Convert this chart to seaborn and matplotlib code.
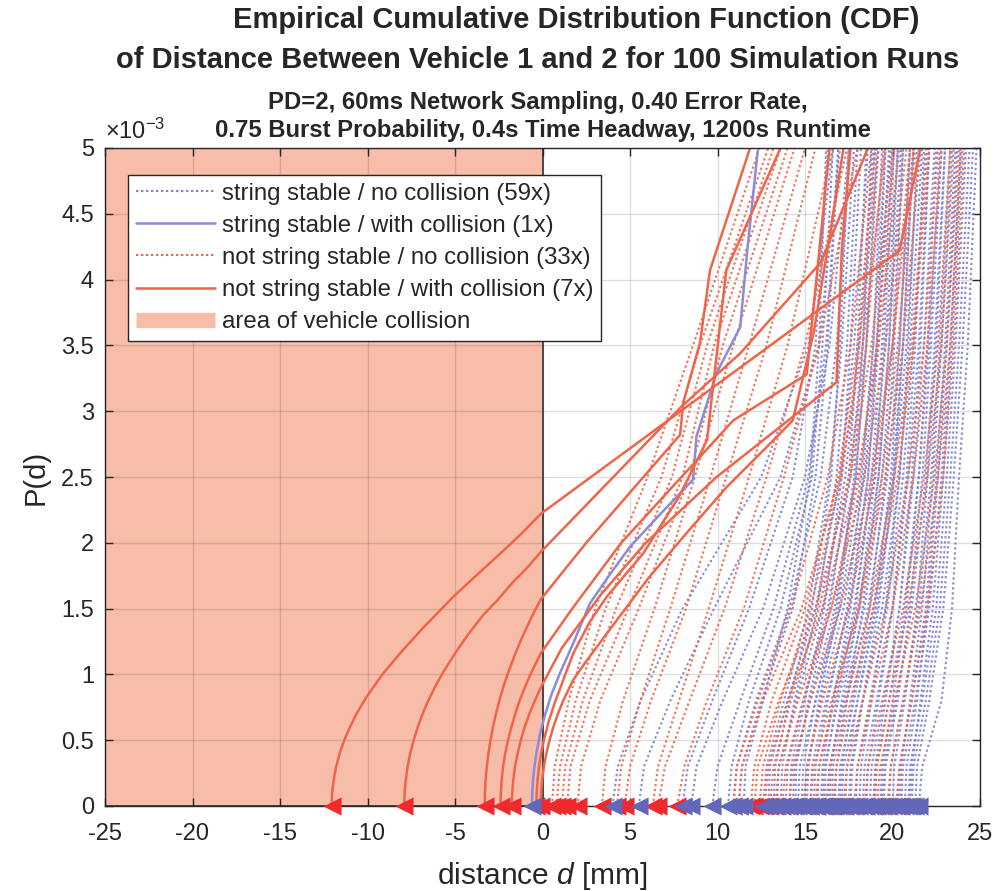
import numpy as np
import pandas as pd
import matplotlib
matplotlib.use("Agg")
import matplotlib.pyplot as plt
from matplotlib.lines import Line2D
import seaborn as sns

sns.set_theme(style="white")
plt.rcParams['font.family'] = ['Liberation Sans', 'DejaVu Sans']
plt.rcParams['mathtext.fontset'] = 'custom'
plt.rcParams['mathtext.rm'] = 'Liberation Sans'
plt.rcParams['mathtext.it'] = 'Liberation Sans:italic'

# ---------------- data (P in units of 1e-3, d in mm) ----------------
P_DOT = [0, 0.3, 0.8, 1.5, 2.5, 3.5, 5.0]

blue_dotted = [
    [4.0, 4.3, 5.6, 8.0, 12.5, 15.2, 16.6],
    [5.5, 5.8, 7.3, 9.8, 13.6, 15.8, 17.0],
    [8.0, 8.3, 9.7, 11.8, 14.3, 15.6, 16.3],
    [8.5, 8.8, 10.3, 12.6, 15.0, 16.4, 17.5],
    [9.7, 10.0, 11.3, 13.2, 15.2, 16.2, 16.9],
    [10.6, 10.8, 11.8, 13.6, 15.4, 16.0, 16.6],
    [10.9, 11.1, 12.2, 14.1, 15.9, 16.8, 17.6],
    [11.2, 11.4, 12.5, 14.3, 15.6, 16.3, 16.9],
    [11.5, 11.6, 12.6, 14.0, 15.3, 15.8, 16.2],
    [12.6, 12.8, 13.8, 15.2, 16.4, 17.1, 17.8],
    [12.9, 13.0, 14.0, 15.6, 17.0, 17.8, 18.6],
    [13.2, 13.3, 14.1, 15.4, 16.5, 17.0, 17.5],
    [13.4, 13.5, 14.5, 16.0, 17.3, 18.1, 18.9],
    [13.6, 13.7, 14.4, 15.7, 16.8, 17.4, 18.0],
    [13.9, 14.0, 14.9, 16.3, 17.6, 18.3, 19.0],
    [14.1, 14.2, 15.0, 16.1, 17.1, 17.6, 18.2],
    [14.3, 14.4, 15.3, 16.7, 17.9, 18.5, 19.2],
    [14.45, 14.5, 15.2, 16.4, 17.5, 18.0, 18.5],
    [14.6, 14.7, 15.6, 17.0, 18.2, 18.9, 19.6],
    [14.8, 14.9, 15.6, 16.8, 17.8, 18.3, 18.8],
    [15.0, 15.1, 15.9, 17.2, 18.4, 19.1, 19.9],
    [15.1, 15.2, 15.8, 16.9, 17.9, 18.5, 19.1],
    [15.3, 15.4, 16.2, 17.5, 18.6, 19.2, 19.8],
    [15.5, 15.6, 16.3, 17.4, 18.3, 18.9, 19.4],
    [15.7, 15.8, 16.6, 17.8, 18.9, 19.6, 20.3],
    [15.9, 16.0, 16.6, 17.6, 18.6, 19.1, 19.6],
    [16.0, 16.1, 16.9, 18.1, 19.2, 19.8, 20.5],
    [16.1, 16.2, 16.8, 17.9, 18.8, 19.4, 20.0],
    [16.3, 16.4, 17.2, 18.4, 19.4, 20.0, 20.6],
    [16.4, 16.5, 17.1, 18.1, 19.0, 19.5, 20.1],
    [16.55, 16.6, 17.4, 18.6, 19.7, 20.4, 21.0],
    [16.7, 16.8, 17.4, 18.3, 19.2, 19.8, 20.3],
    [16.9, 17.0, 17.8, 18.9, 20.0, 20.6, 21.2],
    [17.0, 17.1, 17.7, 18.7, 19.6, 20.1, 20.6],
    [17.1, 17.2, 18.0, 19.1, 20.1, 20.8, 21.5],
    [17.3, 17.4, 18.0, 19.0, 19.9, 20.4, 21.0],
    [17.5, 17.6, 18.3, 19.4, 20.4, 21.0, 21.7],
    [17.6, 17.7, 18.3, 19.2, 20.1, 20.6, 21.2],
    [17.9, 18.0, 18.7, 19.7, 20.6, 21.2, 21.9],
    [18.1, 18.2, 18.8, 19.6, 20.4, 20.9, 21.4],
    [18.3, 18.4, 19.1, 20.0, 20.9, 21.5, 22.1],
    [18.5, 18.6, 19.2, 20.0, 20.8, 21.3, 21.8],
    [18.7, 18.8, 19.5, 20.4, 21.2, 21.8, 22.4],
    [18.9, 19.0, 19.6, 20.4, 21.1, 21.6, 22.1],
    [19.0, 19.1, 19.8, 20.7, 21.5, 22.1, 22.7],
    [19.3, 19.4, 20.0, 20.8, 21.5, 22.0, 22.5],
    [19.4, 19.5, 20.2, 21.1, 21.9, 22.4, 23.0],
    [19.5, 19.6, 20.3, 21.0, 21.7, 22.2, 22.8],
    [19.8, 19.9, 20.6, 21.5, 22.2, 22.7, 23.3],
    [20.0, 20.1, 20.7, 21.4, 22.0, 22.5, 23.0],
    [20.3, 20.4, 21.1, 21.9, 22.5, 23.0, 23.6],
    [20.4, 20.5, 21.0, 21.7, 22.3, 22.8, 23.4],
    [20.5, 20.6, 21.3, 22.1, 22.8, 23.3, 23.9],
    [20.7, 20.8, 21.4, 22.0, 22.6, 23.1, 23.7],
    [20.9, 21.0, 21.7, 22.5, 23.1, 23.6, 24.2],
    [21.0, 21.1, 21.6, 22.3, 22.9, 23.4, 24.0],
    [21.1, 21.2, 21.9, 22.7, 23.3, 23.8, 24.4],
    [21.3, 21.4, 22.1, 22.9, 23.5, 24.0, 24.6],
    [21.5, 21.7, 22.8, 23.4, 23.8, 24.3, 24.8],
]

red_dotted = [
    [0.54, 0.7, 1.5, 3.0, 6.0, 8.6, 12.4],
    [0.8, 1.0, 1.9, 3.6, 6.8, 9.0, 12.9],
    [1.1, 1.3, 2.3, 4.2, 7.4, 9.4, 13.2],
    [1.4, 1.6, 2.7, 4.9, 8.0, 9.8, 13.6],
    [2.0, 2.2, 3.3, 5.5, 8.4, 10.3, 14.0],
    [3.4, 3.6, 4.6, 6.4, 8.7, 10.9, 14.4],
    [4.25, 4.5, 5.6, 7.3, 9.6, 11.8, 15.0],
    [4.7, 5.0, 6.2, 8.2, 10.5, 12.8, 15.6],
    [6.3, 6.6, 7.8, 9.5, 11.8, 14.0, 16.6],
    [6.6, 7.0, 8.4, 10.4, 12.8, 15.0, 17.4],
    [7.7, 8.1, 9.4, 11.5, 13.8, 15.8, 18.0],
    [10.9, 11.1, 12.3, 14.2, 16.3, 17.6, 18.8],
    [11.2, 11.4, 12.6, 14.8, 17.0, 18.3, 19.6],
    [11.9, 12.1, 13.1, 15.0, 16.9, 18.0, 19.0],
    [12.1, 12.3, 13.5, 15.6, 17.6, 18.8, 20.0],
    [12.4, 12.6, 13.6, 15.3, 17.1, 18.1, 19.2],
    [12.7, 12.9, 14.0, 16.0, 18.0, 19.2, 20.4],
    [13.0, 13.2, 14.2, 15.8, 17.5, 18.5, 19.5],
    [13.3, 13.5, 14.6, 16.5, 18.4, 19.6, 20.8],
    [13.7, 13.9, 14.9, 16.5, 18.1, 19.1, 20.1],
    [14.1, 14.3, 15.3, 17.0, 18.8, 20.0, 21.2],
    [14.9, 15.1, 16.0, 17.5, 19.0, 20.0, 21.0],
    [15.3, 15.5, 16.5, 18.1, 19.6, 20.6, 21.6],
    [15.6, 15.8, 16.7, 18.0, 19.4, 20.3, 21.3],
    [16.2, 16.4, 17.3, 18.7, 20.1, 21.1, 22.0],
    [16.6, 16.8, 17.6, 18.9, 20.3, 21.2, 22.1],
    [17.2, 17.4, 18.3, 19.6, 20.9, 21.8, 22.6],
    [17.8, 18.0, 18.8, 20.0, 21.2, 22.0, 22.8],
    [18.4, 18.6, 19.4, 20.6, 21.8, 22.6, 23.3],
    [18.9, 19.1, 19.8, 20.9, 22.0, 22.8, 23.5],
    [19.1, 19.3, 20.1, 21.3, 22.4, 23.1, 23.8],
    [19.7, 19.9, 20.6, 21.6, 22.6, 23.3, 23.9],
    [20.2, 20.4, 21.1, 22.0, 22.9, 23.5, 24.1],
]

blue_solid_P = [0, 0.1, 0.2, 0.3, 0.4, 0.55, 0.7, 0.85, 1.01, 1.25, 1.54, 1.75, 1.97, 2.2, 2.48,
                2.81, 3.29, 3.64, 4.22, 4.98]
blue_solid_d = [-0.6, -0.585, -0.54, -0.46, -0.35, -0.14, 0.16, 0.52, 1.0, 1.8, 2.71, 3.8, 5.0, 6.6,
                8.6, 8.8, 9.95, 11.3, 11.7, 12.3]

red_solid_P = [
    [0, 0.1, 0.2, 0.3, 0.4, 0.5, 0.6, 0.7, 0.83, 1.0, 1.16, 1.35, 1.59, 1.75, 1.92, 2.07, 2.22, 4.22, 5.0],
    [0, 0.1, 0.2, 0.3, 0.4, 0.5, 0.6, 0.7, 0.78, 0.9, 1.0, 1.16, 1.3, 1.45, 1.56, 1.7, 1.8, 1.93,
     3.03, 3.44, 4.13, 5.0],
    [0, 0.1, 0.2, 0.3, 0.4, 0.5, 0.6, 0.7, 0.8, 0.9, 1.0, 1.15, 1.3, 1.45, 1.57, 2.0, 2.82, 3.07,
     3.52, 4.07, 5.0],
    [0, 0.1, 0.2, 0.3, 0.4, 0.5, 0.6, 0.7, 0.8, 0.9, 1.0, 1.16, 1.5, 2.0, 2.93, 3.28, 3.8, 5.0],
    [0, 0.1, 0.2, 0.3, 0.4, 0.5, 0.6, 0.7, 0.8, 0.9, 1.2, 1.6, 2.0, 2.5, 3.22, 4.22, 5.0],
    [0, 0.1, 0.2, 0.3, 0.4, 0.5, 0.65, 0.8, 0.9, 1.0, 1.16, 1.4, 1.59, 1.92, 2.35, 2.78, 4.07, 5.0],
    [0, 0.1, 0.2, 0.3, 0.4, 0.5, 0.6, 0.7, 0.8, 0.96, 1.1, 1.31, 1.74, 2.1, 2.42, 2.78, 2.93, 3.6,
     4.4, 5.0],
]
red_solid_d = [
    [-12.05, -12.02, -11.93, -11.79, -11.59, -11.33, -11.0, -10.63, -10.05, -9.15, -8.14, -6.85,
     -5.1, -3.8, -2.4, -1.2, -0.1, 20.4, 21.6],
    [-7.9, -7.88, -7.81, -7.71, -7.56, -7.36, -7.13, -6.85, -6.6, -6.16, -5.75, -5.0, -4.27, -3.4,
     -2.6, -1.7, -0.95, -0.1, 7.9, 11.3, 15.9, 18.6],
    [-3.3, -3.29, -3.25, -3.18, -3.09, -2.97, -2.83, -2.66, -2.47, -2.25, -2.0, -1.58, -1.1, -0.57,
     -0.1, 2.5, 7.86, 8.05, 9.0, 9.57, 11.86],
    [-2.4, -2.38, -2.33, -2.25, -2.13, -1.97, -1.78, -1.56, -1.31, -1.01, -0.69, -0.1, 1.7, 4.5,
     10.9, 15.1, 15.5, 16.4],
    [-1.75, -1.73, -1.67, -1.57, -1.42, -1.24, -1.02, -0.75, -0.44, -0.1, 1.1, 3.3, 5.9, 9.95,
     16.8, 17.1, 17.6],
    [-0.35, -0.33, -0.28, -0.2, -0.08, 0.08, 0.37, 0.74, 1.03, 1.3, 1.76, 2.7, 3.67, 5.76, 7.8, 9.4,
     10.5, 13.6],
    [-0.1, -0.08, -0.02, 0.08, 0.22, 0.4, 0.62, 0.88, 1.18, 1.76, 2.5, 3.67, 6.1, 8.4, 10.5, 13.2,
     14.3, 15.5, 16.5, 17.2],
]

labels = ["string stable / no collision (59x)",
          "string stable / with collision (1x)",
          "not string stable / no collision (33x)",
          "not string stable / with collision (7x)",
          "area of vehicle collision"]
title_lines = ["Empirical Cumulative Distribution Function (CDF)",
               "of Distance Between Vehicle 1 and 2 for 100 Simulation Runs"]
subtitle_lines = ["PD=2, 60ms Network Sampling, 0.40 Error Rate,",
                  "0.75 Burst Probability, 0.4s Time Headway, 1200s Runtime"]
xticks = [-25, -20, -15, -10, -5, 0, 5, 10, 15, 20, 25]
yticks = [0, 0.5, 1, 1.5, 2, 2.5, 3, 3.5, 4, 4.5, 5]
ytick_labels = ["0", "0.5", "1", "1.5", "2", "2.5", "3", "3.5", "4", "4.5", "5"]

# ---------------- build long tables ----------------
def dotted_frame(curves, tag):
    rows = []
    for i, c in enumerate(curves):
        for p, d in zip(P_DOT, c):
            rows.append((f"{tag}{i}", d, p))
    return pd.DataFrame(rows, columns=["run", "d", "P"])

def solid_frame(Ps, Ds, tag):
    rows = []
    for i, (pp, dd) in enumerate(zip(Ps, Ds)):
        for p, d in zip(pp, dd):
            rows.append((f"{tag}{i}", d, p))
    return pd.DataFrame(rows, columns=["run", "d", "P"])

df_bd = dotted_frame(blue_dotted, "bd")
df_rd = dotted_frame(red_dotted, "rd")
df_bs = solid_frame([blue_solid_P], [blue_solid_d], "bs")
df_rs = solid_frame(red_solid_P, red_solid_d, "rs")

BLUE_LINE = "#7d80cf"
BLUE_SOLID = "#8a8dd6"
RED_LINE = "#ef6549"
BLUE_MK = "#6367b9"
RED_MK = "#ee2a2e"
FILL = "#f8bda9"
DARK = "#262626"
DOT = (0, (1.1, 1.3))

fig = plt.figure(figsize=(9.99, 8.91), dpi=100)
ax = fig.add_axes([105/999, 1-806/891, 875/999, 658/891])

ax.axvspan(-25, 0, facecolor=FILL, edgecolor="#303030", linewidth=1.2, zorder=1)

common = dict(x="d", y="P", units="run", estimator=None, sort=False, legend=False, ax=ax)
sns.lineplot(data=df_bd, color=BLUE_LINE, linestyle=DOT, linewidth=1.5, alpha=0.9, zorder=2, **common)
sns.lineplot(data=df_rd, color=RED_LINE, linestyle=DOT, linewidth=1.5, alpha=0.9, zorder=2, **common)
sns.lineplot(data=df_bs, color=BLUE_SOLID, linewidth=1.8, zorder=3, **common)
sns.lineplot(data=df_rs, color=RED_LINE, linewidth=1.8, zorder=3, **common)

red_d0 = [c[0] for c in red_dotted] + [dd[0] for dd in red_solid_d]
blue_d0 = [c[0] for c in blue_dotted] + [blue_solid_d[0]]
sns.scatterplot(x=red_d0, y=[0]*len(red_d0), marker="<", s=170, color=RED_MK,
                linewidth=0, zorder=5, ax=ax, legend=False)
sns.scatterplot(x=blue_d0, y=[0]*len(blue_d0), marker="<", s=170, color=BLUE_MK,
                linewidth=0, zorder=6, ax=ax, legend=False)
for coll in ax.collections:
    coll.set_clip_on(False)

ax.set_xlim(-25, 25)
ax.set_ylim(0, 5)
ax.set_xticks(xticks)
ax.set_xticklabels([str(t) for t in xticks])
ax.set_yticks(yticks)
ax.set_yticklabels(ytick_labels)
ax.set_axisbelow("line")
ax.grid(True, color=DARK, alpha=0.15, linewidth=1.0)
for s in ax.spines.values():
    s.set_color(DARK)
    s.set_linewidth(1.0)
    s.set_zorder(4)
ax.tick_params(direction="in", length=6, width=1, colors=DARK, labelsize=17,
               top=True, right=True, bottom=True, left=True)
ax.tick_params(axis="x", pad=12)
ax.tick_params(axis="y", pad=8)
for lab in ax.get_xticklabels() + ax.get_yticklabels():
    lab.set_color(DARK)

ax.set_xlabel("distance $d$ [mm]", fontsize=21.5, color=DARK, labelpad=11)
ax.set_ylabel("P(d)", fontsize=21, color=DARK, labelpad=8)
ax.text(0.0, 1.006, r"$\times10^{-3}$", transform=ax.transAxes, fontsize=17,
        color=DARK, ha="left", va="bottom")

handles = [
    Line2D([], [], color=BLUE_LINE, linestyle=DOT, linewidth=1.5),
    Line2D([], [], color=BLUE_SOLID, linewidth=1.8),
    Line2D([], [], color=RED_LINE, linestyle=DOT, linewidth=1.5),
    Line2D([], [], color=RED_LINE, linewidth=1.8),
    Line2D([], [], color=FILL, linewidth=11, solid_capstyle="butt"),
]
leg = ax.legend(handles, labels, loc="upper left",
                bbox_to_anchor=((128-105)/875, (806-175)/658),
                borderaxespad=0, fontsize=17.3, frameon=True, fancybox=False,
                framealpha=1, edgecolor=DARK, handlelength=3.3, handletextpad=0.3,
                labelspacing=0.42, borderpad=0.32)
leg.get_frame().set_linewidth(1.0)
for t in leg.get_texts():
    t.set_color(DARK)
leg.set_zorder(8)

fig.text(576/999, 1-20/891, title_lines[0], ha="center", va="center",
         fontsize=21, fontweight="bold", color=DARK)
fig.text(538/999, 1-60/891, title_lines[1], ha="center", va="center",
         fontsize=21, fontweight="bold", color=DARK)
fig.text(538/999, 1-102/891, subtitle_lines[0], ha="center", va="center",
         fontsize=17.2, fontweight="bold", color=DARK)
fig.text(543/999, 1-130/891, subtitle_lines[1], ha="center", va="center",
         fontsize=17.2, fontweight="bold", color=DARK)

fig.savefig("out.png", dpi=100)
